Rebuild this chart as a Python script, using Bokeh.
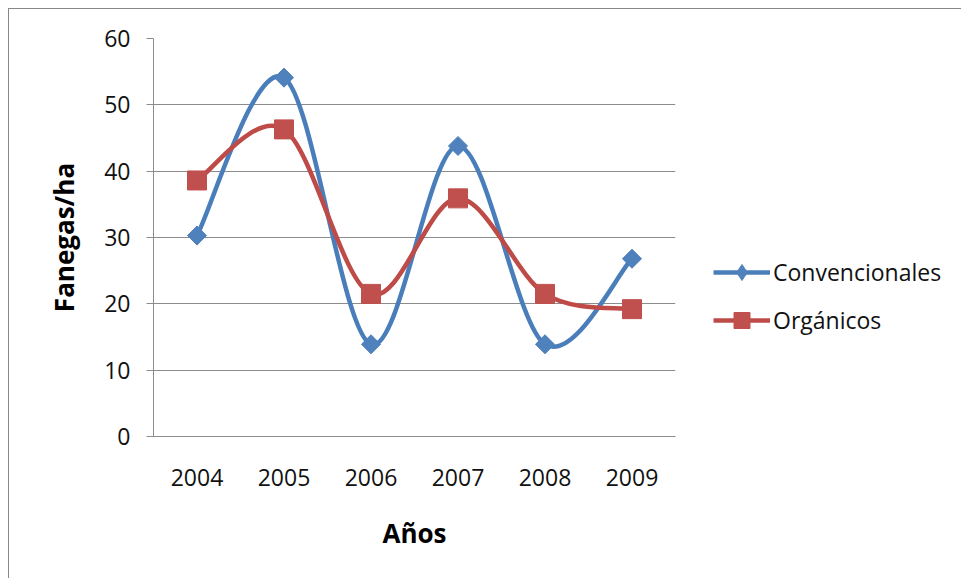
from bokeh.plotting import figure
from bokeh.models import Range1d, FixedTicker, Legend, LegendItem, ColumnDataSource
from bokeh.embed import file_html
from bokeh.resources import INLINE

years = ["2004", "2005", "2006", "2007", "2008", "2009"]
convencionales = [30.3, 54.1, 13.9, 43.8, 13.9, 26.8]
organicos = [38.6, 46.3, 21.5, 35.9, 21.5, 19.2]
y_ticks = [0, 10, 20, 30, 40, 50, 60]

BLUE_LINE = "#4A7EBB"
BLUE_MARK = "#4F81BD"
RED_LINE = "#BE4B48"
RED_MARK = "#C0504D"
GRID = "#8C8C8C"
FONT = "Open Sans"

xpos = [i + 0.5 for i in range(len(years))]


def smooth_source(xs, ys):
    # Excel-like smoothing: cubic Bezier segments with Catmull-Rom control points
    n = len(xs)
    d = dict(x0=[], y0=[], x1=[], y1=[], cx0=[], cy0=[], cx1=[], cy1=[])
    for i in range(n - 1):
        pxm, pym = (xs[i - 1], ys[i - 1]) if i > 0 else (xs[i], ys[i])
        p2x, p2y = (xs[i + 2], ys[i + 2]) if i + 2 < n else (xs[i + 1], ys[i + 1])
        d["x0"].append(xs[i]); d["y0"].append(ys[i])
        d["x1"].append(xs[i + 1]); d["y1"].append(ys[i + 1])
        d["cx0"].append(xs[i] + (xs[i + 1] - pxm) / 6)
        d["cy0"].append(ys[i] + (ys[i + 1] - pym) / 6)
        d["cx1"].append(xs[i + 1] - (p2x - xs[i]) / 6)
        d["cy1"].append(ys[i + 1] - (p2y - ys[i]) / 6)
    return ColumnDataSource(d)


p = figure(frame_width=522, frame_height=398, output_backend="svg", toolbar_location=None,
           x_range=Range1d(0, len(years)), y_range=Range1d(0, 60),
           min_border_left=144, min_border_right=284, min_border_top=29, min_border_bottom=142)
p.styles = {"border-left": "1px solid #888888", "border-top": "1px solid #888888",
            "margin-left": "8px", "margin-top": "8px", "background-color": "white"}
p.outline_line_color = None
p.background_fill_color = "white"
p.border_fill_color = "white"

# grid
p.xgrid.grid_line_color = None
p.ygrid.grid_line_color = GRID
p.ygrid.grid_line_width = 1
p.ygrid.ticker = FixedTicker(ticks=y_ticks)

# y axis
p.yaxis.ticker = FixedTicker(ticks=y_ticks)
p.yaxis.axis_line_color = GRID
p.yaxis.major_tick_line_color = GRID
p.yaxis.major_tick_out = 7
p.yaxis.major_tick_in = 0
p.yaxis.minor_tick_line_color = None
p.yaxis.major_label_text_font = FONT
p.yaxis.major_label_text_font_size = "23px"
p.yaxis.major_label_text_color = "#111111"
p.yaxis.major_label_standoff = 16
p.yaxis.axis_label = "Fanegas/ha"
p.yaxis.axis_label_text_font = FONT
p.yaxis.axis_label_text_font_style = "bold"
p.yaxis.axis_label_text_font_size = "26px"
p.yaxis.axis_label_text_color = "#000000"
p.yaxis.axis_label_standoff = 19

# x axis
p.xaxis.ticker = FixedTicker(ticks=xpos)
p.xaxis.major_label_overrides = {x: y for x, y in zip(xpos, years)}
p.xaxis.axis_line_color = GRID
p.xaxis.major_tick_line_color = None
p.xaxis.minor_tick_line_color = None
p.xaxis.major_label_text_font = FONT
p.xaxis.major_label_text_font_size = "23px"
p.xaxis.major_label_text_color = "#111111"
p.xaxis.major_label_standoff = 26
p.xaxis.axis_label = "Años"
p.xaxis.axis_label_text_font = FONT
p.xaxis.axis_label_text_font_style = "bold"
p.xaxis.axis_label_text_font_size = "26px"
p.xaxis.axis_label_text_color = "#000000"
p.xaxis.axis_label_standoff = 26

# series
src_c = smooth_source(xpos, convencionales)
src_o = smooth_source(xpos, organicos)

bc = p.bezier(x0="x0", y0="y0", x1="x1", y1="y1", cx0="cx0", cy0="cy0", cx1="cx1", cy1="cy1",
              source=src_c, line_color=BLUE_LINE, line_width=4.5)
mc = p.scatter(xpos, convencionales, marker="square", angle=0.785398, size=13.5,
               fill_color=BLUE_MARK, line_color=BLUE_MARK)
# diamond glyph of size 0: invisible on the plot, only used for the legend swatch
mc_leg = p.scatter(xpos, convencionales, marker="diamond", size=0,
                   fill_color=BLUE_MARK, line_color=BLUE_MARK)
bo = p.bezier(x0="x0", y0="y0", x1="x1", y1="y1", cx0="cx0", cy0="cy0", cx1="cx1", cy1="cy1",
              source=src_o, line_color=RED_LINE, line_width=4.5)
mo = p.scatter(xpos, organicos, marker="square", size=19,
               fill_color=RED_MARK, line_color=RED_MARK)

legend = Legend(items=[LegendItem(label="Convencionales", renderers=[bc, mc_leg]),
                       LegendItem(label="Orgánicos", renderers=[bo, mo])],
                location=(38, 96), orientation="vertical",
                glyph_width=57, glyph_height=40, label_height=20, spacing=8,
                label_standoff=3, padding=0, margin=0,
                border_line_color=None, background_fill_alpha=0,
                label_text_font=FONT, label_text_font_size="23px",
                label_text_color="#111111")
p.add_layout(legend, "right")

open("out.html", "w").write(file_html(p, INLINE))
